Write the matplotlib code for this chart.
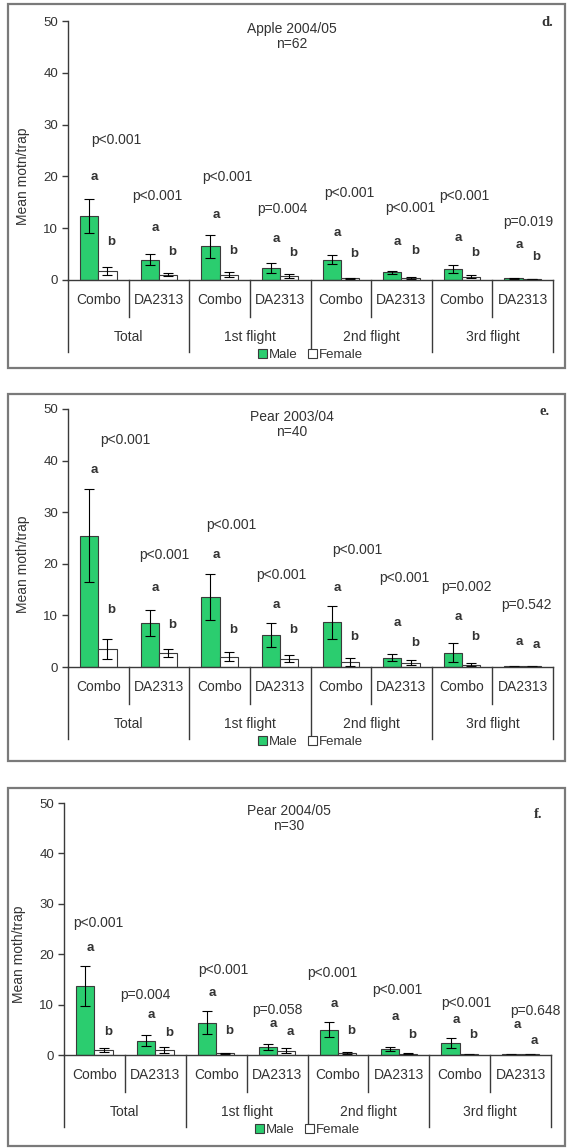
import matplotlib
matplotlib.use("Agg")
import matplotlib.pyplot as plt
from matplotlib.patches import Rectangle, Patch
import numpy as np

plt.rcParams['font.family'] = ['Liberation Sans', 'DejaVu Sans']

W, H = 573, 1148
GREEN = '#2BCD6F'
DARK = '#3a3a3a'
TXT = '#333333'
FS = 10

traps = ["Combo", "DA2313"] * 4
flights = ["Total", "1st flight", "2nd flight", "3rd flight"]

# panel d - apple 2004/05
d_title = "Apple 2004/05\nn=62"
d_ylabel = "Mean motn/trap"
d_male = [12.4, 3.9, 6.5, 2.3, 3.9, 1.5, 2.1, 0.3]
d_male_se = [3.3, 1.1, 2.2, 0.9, 0.9, 0.3, 0.8, 0.1]
d_female = [1.8, 1.0, 1.0, 0.7, 0.3, 0.4, 0.6, 0.2]
d_female_se = [0.8, 0.3, 0.5, 0.4, 0.1, 0.2, 0.3, 0.05]
d_p = ["p<0.001", "p<0.001", "p<0.001", "p=0.004", "p<0.001", "p<0.001", "p<0.001", "p=0.019"]
d_p_y = [27.0, 16.2, 19.9, 13.7, 16.7, 13.9, 16.2, 11.2]
d_p_dx = [0.29, -0.03, 0.12, 0.03, 0.14, 0.14, 0.04, 0.09]
d_m_let = ["a"] * 8
d_m_let_y = [19.9, 10.0, 12.5, 7.9, 9.1, 7.3, 8.1, 6.8]
d_f_let = ["b"] * 8
d_f_let_y = [7.3, 5.4, 5.6, 5.2, 5.0, 5.6, 5.2, 4.4]

# panel e - pear 2003/04
e_title = "Pear 2003/04\nn=40"
e_ylabel = "Mean moth/trap"
e_male = [25.4, 8.5, 13.6, 6.2, 8.7, 1.8, 2.8, 0.15]
e_male_se = [9.0, 2.5, 4.5, 2.3, 3.2, 0.7, 1.9, 0.1]
e_female = [3.5, 2.7, 2.0, 1.6, 1.0, 0.8, 0.4, 0.1]
e_female_se = [2.0, 0.8, 0.9, 0.7, 0.8, 0.5, 0.3, 0.05]
e_p = ["p<0.001", "p<0.001", "p<0.001", "p<0.001", "p<0.001", "p<0.001", "p=0.002", "p=0.542"]
e_p_y = [44.0, 21.7, 27.5, 17.8, 22.7, 17.2, 15.5, 12.0]
e_p_dx = [0.44, 0.09, 0.20, 0.02, 0.28, 0.04, 0.07, 0.06]
e_m_let = ["a"] * 8
e_m_let_y = [38.2, 15.3, 21.7, 12.0, 15.3, 8.5, 9.7, 4.9]
e_f_let = ["b", "b", "b", "b", "b", "b", "b", "a"]
e_f_let_y = [11.0, 8.1, 7.2, 7.2, 5.8, 4.6, 5.8, 4.3]

# panel f - pear 2004/05
f_title = "Pear 2004/05\nn=30"
f_ylabel = "Mean moth/trap"
f_male = [13.7, 2.8, 6.4, 1.6, 5.0, 1.1, 2.3, 0.1]
f_male_se = [4.0, 1.1, 2.3, 0.6, 1.5, 0.4, 1.0, 0.05]
f_female = [1.0, 1.0, 0.3, 0.8, 0.4, 0.2, 0.1, 0.1]
f_female_se = [0.4, 0.6, 0.1, 0.5, 0.2, 0.1, 0.05, 0.05]
f_p = ["p<0.001", "p=0.004", "p<0.001", "p=0.058", "p<0.001", "p<0.001", "p<0.001", "p=0.648"]
f_p_y = [26.2, 11.9, 16.9, 8.9, 16.3, 12.9, 10.4, 8.8]
f_p_dx = [0.07, -0.17, 0.11, 0.01, -0.10, -0.02, 0.11, 0.24]
f_m_let = ["a"] * 8
f_m_let_y = [21.2, 7.9, 12.3, 6.2, 10.1, 7.5, 6.9, 6.0]
f_f_let = ["b", "b", "b", "a", "b", "b", "b", "a"]
f_f_let_y = [4.6, 4.4, 4.8, 4.6, 4.8, 4.0, 4.0, 2.8]


def frac(l, t, r, b):
    # pixel box -> figure fraction [left, bottom, width, height]
    return [l / W, 1 - b / H, (r - l) / W, (b - t) / H]


def draw_panel(fig, box, axbox, letter, letpos, title, ylabel, male, male_se,
               female, female_se, p, p_y, p_dx, m_let, m_let_y, f_let, f_let_y):
    fb = frac(*box)
    fig.add_artist(Rectangle((fb[0], fb[1]), fb[2], fb[3], transform=fig.transFigure,
                             fill=False, edgecolor='#7a7a7a', lw=1.6))
    ax = fig.add_axes(frac(*axbox))
    hpx = axbox[3] - axbox[1]
    x = np.arange(len(traps))
    w = 0.3
    ekw = dict(ecolor='black', elinewidth=0.8, capsize=3.5, capthick=0.8)
    ax.bar(x - w / 2, male, w, yerr=male_se, color=GREEN, edgecolor=DARK, lw=0.8,
           error_kw=ekw, label="Male")
    ax.bar(x + w / 2, female, w, yerr=female_se, color='white', edgecolor=DARK, lw=0.8,
           error_kw=ekw, label="Female")
    ax.set_xlim(-0.5, 7.5)
    ax.set_ylim(0, 50)
    ax.set_yticks(range(0, 51, 10))
    for s in ['top', 'right']:
        ax.spines[s].set_visible(False)
    for s in ['left', 'bottom']:
        ax.spines[s].set_color(DARK)
        ax.spines[s].set_linewidth(1.0)
    ax.tick_params(axis='x', bottom=False, labelbottom=False)
    ax.tick_params(axis='y', direction='out', length=4, width=1.0, color=DARK,
                   labelsize=9.5, labelcolor=TXT, pad=3)
    ax.set_ylabel(ylabel, fontsize=FS, color=TXT)
    ax.yaxis.set_label_coords(-0.078, 0.40)

    tr = ax.get_xaxis_transform()
    for i, t in enumerate(traps):
        ax.text(i, -20 / hpx, t, transform=tr, ha='center', va='center',
                fontsize=FS, color=TXT)
    for k, b in enumerate(np.arange(-0.5, 8, 1)):
        L = 72 if k % 2 == 0 else 37
        ax.plot([b, b], [0, -L / hpx], transform=tr, clip_on=False, color=DARK, lw=1.0)
    for j, g in enumerate(flights):
        ax.text(2 * j + 0.5, -57 / hpx, g, transform=tr, ha='center', va='center',
                fontsize=FS, color=TXT)

    for i in range(len(traps)):
        ax.text(i + p_dx[i], p_y[i], p[i], ha='center', va='center', fontsize=FS, color=TXT)
        ax.text(i - 0.06, m_let_y[i], m_let[i], ha='center', va='center', fontsize=9.5,
                fontweight='bold', color=TXT)
        ax.text(i + 0.22, f_let_y[i], f_let[i], ha='center', va='center', fontsize=9.5,
                fontweight='bold', color=TXT)

    ax.text(0.462, 47.0, title, transform=ax.get_yaxis_transform(), ha='center',
            va='center', fontsize=FS, color=TXT, linespacing=1.1)
    fig.text(letpos[0] / W, 1 - letpos[1] / H, letter, ha='center', va='center',
             fontsize=10.5, fontweight='bold', family='Liberation Serif', color=TXT)

    handles = [Patch(facecolor=GREEN, edgecolor=DARK, lw=0.8, label="Male"),
               Patch(facecolor='white', edgecolor=DARK, lw=0.8, label="Female")]
    ax.legend(handles=handles, loc='center', bbox_to_anchor=(0.5, -75 / hpx), ncol=2,
              frameon=False, fontsize=9.5, handlelength=0.7, handleheight=0.7,
              handletextpad=0.15, columnspacing=0.8, labelcolor=TXT)
    return ax


fig = plt.figure(figsize=(W / 100, H / 100), dpi=100)

draw_panel(fig, (8, 4, 565, 368), (68, 21, 553, 280), "d.", (547, 22), d_title, d_ylabel,
           d_male, d_male_se, d_female, d_female_se, d_p, d_p_y, d_p_dx,
           d_m_let, d_m_let_y, d_f_let, d_f_let_y)
draw_panel(fig, (8, 394, 565, 761), (68, 409, 553, 667), "e.", (545, 412), e_title, e_ylabel,
           e_male, e_male_se, e_female, e_female_se, e_p, e_p_y, e_p_dx,
           e_m_let, e_m_let_y, e_f_let, e_f_let_y)
draw_panel(fig, (8, 788, 565, 1146), (64, 803, 551, 1055), "f.", (538, 815), f_title, f_ylabel,
           f_male, f_male_se, f_female, f_female_se, f_p, f_p_y, f_p_dx,
           f_m_let, f_m_let_y, f_f_let, f_f_let_y)

fig.savefig("out.png", dpi=100)
